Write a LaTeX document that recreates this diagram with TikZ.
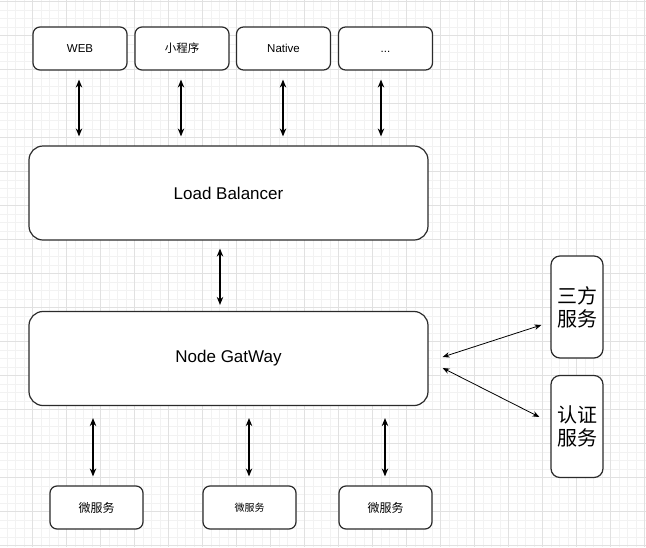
\documentclass[tikz,border=0pt]{standalone}
\usepackage{fontspec}
\setmainfont{Liberation Sans}
\newfontfamily\cjk{Noto Sans CJK SC}
\usetikzlibrary{arrows.meta,calc}
\definecolor{gridminor}{HTML}{F2F2F2}
\definecolor{gridmajor}{HTML}{E1E1E1}
\definecolor{boxline}{HTML}{2B2B2B}
\tikzstyle{client}=[rectangle,rounded corners=7pt,draw=boxline,line width=1.2pt,fill=white,minimum width=94pt,minimum height=43pt,inner sep=0pt,font=\fontsize{11.5}{14}\selectfont]
\tikzstyle{micro}=[client,minimum width=93pt,font=\cjk\fontsize{12}{14}\selectfont]
\tikzstyle{layer}=[rectangle,rounded corners=14pt,draw=boxline,line width=1.2pt,fill=white,minimum width=399pt,minimum height=94pt,inner sep=0pt,font=\fontsize{17}{20}\selectfont]
\tikzstyle{service}=[rectangle,rounded corners=9pt,draw=boxline,line width=1.2pt,fill=white,minimum width=52pt,minimum height=102pt,inner sep=0pt,align=center,font=\cjk\fontsize{20}{23}\selectfont]
\tikzstyle{edge} = [draw,line width=1.2pt,{Stealth[length=8pt,width=6.5pt]}-{Stealth[length=8pt,width=6.5pt]}]
\tikzstyle{thinedge} = [draw,line width=0.8pt,{Stealth[length=7pt,width=5.5pt]}-{Stealth[length=7pt,width=5.5pt]}]
\begin{document}
\begin{tikzpicture}[x=1pt,y=-1pt]
    \useasboundingbox (0,0) rectangle (646,547);
    % Background grid
    \foreach \i in {0,...,75}
        \draw[gridminor,line width=0.8pt] ({7.2+8.5*\i},0) -- ({7.2+8.5*\i},547);
    \foreach \i in {0,...,64}
        \draw[gridminor,line width=0.8pt] (0,{1.7+8.5*\i}) -- (646,{1.7+8.5*\i});
    \foreach \i in {0,...,18}
        \draw[gridmajor,line width=1pt] ({32.7+34*\i},0) -- ({32.7+34*\i},547);
    \foreach \i in {0,...,16}
        \draw[gridmajor,line width=1pt] (0,{1.7+34*\i}) -- (646,{1.7+34*\i});

    % Clients on top
    \foreach \pos/\name/\txt in {{(80,48.5)/web/WEB}, {(182,48.5)/mini/{\cjk 小程序}},
                                 {(283.5,48.5)/native/Native}, {(385.5,48.5)/more/{\vphantom{N}{.}{.}{.}}}}
        \node[client] (\name) at \pos {\txt};

    % The two big layers
    \node[layer] (lb) at (228.5,193) {Load Balancer};
    \node[layer] (gw) at (228.5,358.5) {Node GatWay};

    % Services on the right
    \node[service] (third) at (577,307) {三方\\服务};
    \node[service] (auth) at (577,426.5) {认证\\服务};

    % Micro services below
    \node[micro] (ms1) at (96.5,507.5) {微服务};
    \node[micro,font=\cjk\fontsize{10}{12}\selectfont] (ms2) at (249.5,507.5) {微服务};
    \node[micro] (ms3) at (385.5,507.5) {微服务};

    % Connect clients with the load balancer
    \foreach \name/\dx in {web/-1, mini/-1, native/-0.5, more/-4.5}
        \path[edge,shorten <=9pt,shorten >=9pt] ([xshift=\dx]\name.south) -- ([xshift=\dx]\name.south |- lb.north);
    \path[edge,shorten <=8pt,shorten >=6pt] ([xshift=-8.5]lb.south) -- ([xshift=-8.5]gw.north);

    % Gateway down to the micro services
    \foreach \name/\dx in {ms1/-3.5, ms2/-0.5, ms3/-0.5}
        \path[edge,shorten <=12pt,shorten >=9pt] ([xshift=\dx]\name.north |- gw.south) -- ([xshift=\dx]\name.north);

    % Gateway to the services on the right
    \path[thinedge] ($(gw.east)+(14,-1.5)$) -- ($(third.west)+(-9,18)$);
    \path[thinedge] ($(gw.east)+(14,9.5)$) -- ($(auth.west)+(-11,-9.5)$);
\end{tikzpicture}
\end{document}
